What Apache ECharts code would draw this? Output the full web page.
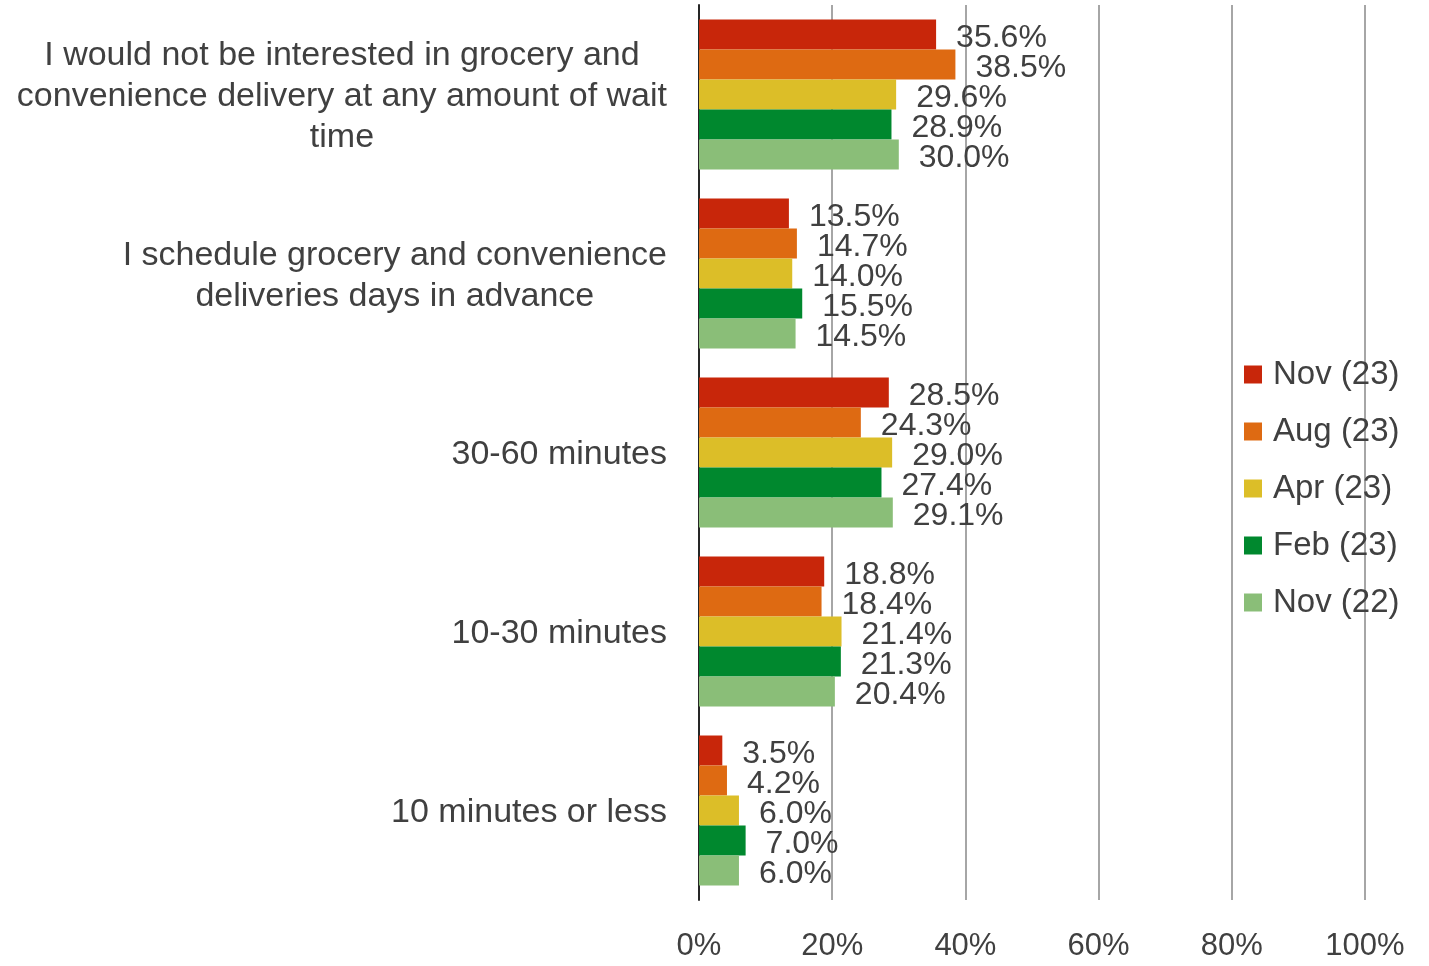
<!DOCTYPE html>
<html>
<head>
<meta charset="utf-8">
<style>
  html, body { margin: 0; padding: 0; background: #fff; }
  #chart { width: 1429px; height: 966px; }
</style>
<script src="https://cdn.jsdelivr.net/npm/echarts@6/dist/echarts.min.js"></script>
</head>
<body>
<div id="chart"></div>
<script>
// categories, top to bottom
var categories = [
  'I would not be interested in grocery and\nconvenience delivery at any amount of wait\ntime',
  'I schedule grocery and convenience\ndeliveries days in advance',
  '30-60 minutes',
  '10-30 minutes',
  '10 minutes or less'
];
var seriesNames = ['Nov (23)', 'Aug (23)', 'Apr (23)', 'Feb (23)', 'Nov (22)'];
var nov23 = [35.6, 13.5, 28.5, 18.8, 3.5];
var aug23 = [38.5, 14.7, 24.3, 18.4, 4.2];
var apr23 = [29.6, 14.0, 29.0, 21.4, 6.0];
var feb23 = [28.9, 15.5, 27.4, 21.3, 7.0];
var nov22 = [30.0, 14.5, 29.1, 20.4, 6.0];
var xTicks = [0, 20, 40, 60, 80, 100];

var colors = ['#C8260A', '#DE6A12', '#DCBE28', '#00882E', '#8ABE78'];
var allData = [nov23, aug23, apr23, feb23, nov22];
var textColor = '#404040';
var fontFamily = 'Liberation Sans, Arial, sans-serif';

var chart = echarts.init(document.getElementById('chart'));

var series = seriesNames.map(function(name, i) {
  return {
    name: name,
    type: 'bar',
    data: allData[i],
    barWidth: 30,
    barGap: '0%',
    itemStyle: { color: colors[i] },
    label: {
      show: true,
      position: 'right',
      distance: 20,
      offset: [0, 4],
      color: textColor,
      fontSize: 32,
      fontFamily: fontFamily,
      formatter: function(p) { return p.value.toFixed(1) + '%'; }
    }
  };
});

chart.setOption({
  animation: false,
  color: colors,
  grid: { left: 699, right: 64, top: 5, bottom: 66, containLabel: false },
  legend: {
    orient: 'vertical',
    left: 1239,
    top: 353,
    icon: 'rect',
    itemWidth: 18,
    itemHeight: 18,
    itemGap: 24,
    data: seriesNames,
    textStyle: {
      color: textColor,
      fontSize: 33,
      lineHeight: 33,
      fontFamily: fontFamily,
      padding: [0, 0, 0, 6]
    }
  },
  xAxis: {
    type: 'value',
    min: 0,
    max: 100,
    interval: 20,
    axisLine: { show: false },
    axisTick: { show: false },
    splitLine: { show: true, lineStyle: { color: '#A6A6A6', width: 2 } },
    axisLabel: {
      margin: 31,
      color: textColor,
      fontSize: 31,
      fontFamily: fontFamily,
      formatter: function(v) { return xTicks.indexOf(v) >= 0 ? v + '%' : ''; }
    }
  },
  yAxis: {
    type: 'category',
    inverse: true,
    data: categories,
    axisLine: { show: true, lineStyle: { color: '#262626', width: 2 } },
    axisTick: { show: false },
    axisLabel: {
      margin: 32,
      padding: [5, 0, 0, 0],
      color: textColor,
      fontFamily: fontFamily,
      formatter: function(v) {
        // center each line inside the label block
        return v.split('\n').map(function(line) { return '{c|' + line + '}'; }).join('\n');
      },
      rich: {
        c: { align: 'center', fontSize: 34, lineHeight: 41, color: textColor, fontFamily: fontFamily }
      }
    }
  },
  series: series
});
</script>
</body>
</html>
